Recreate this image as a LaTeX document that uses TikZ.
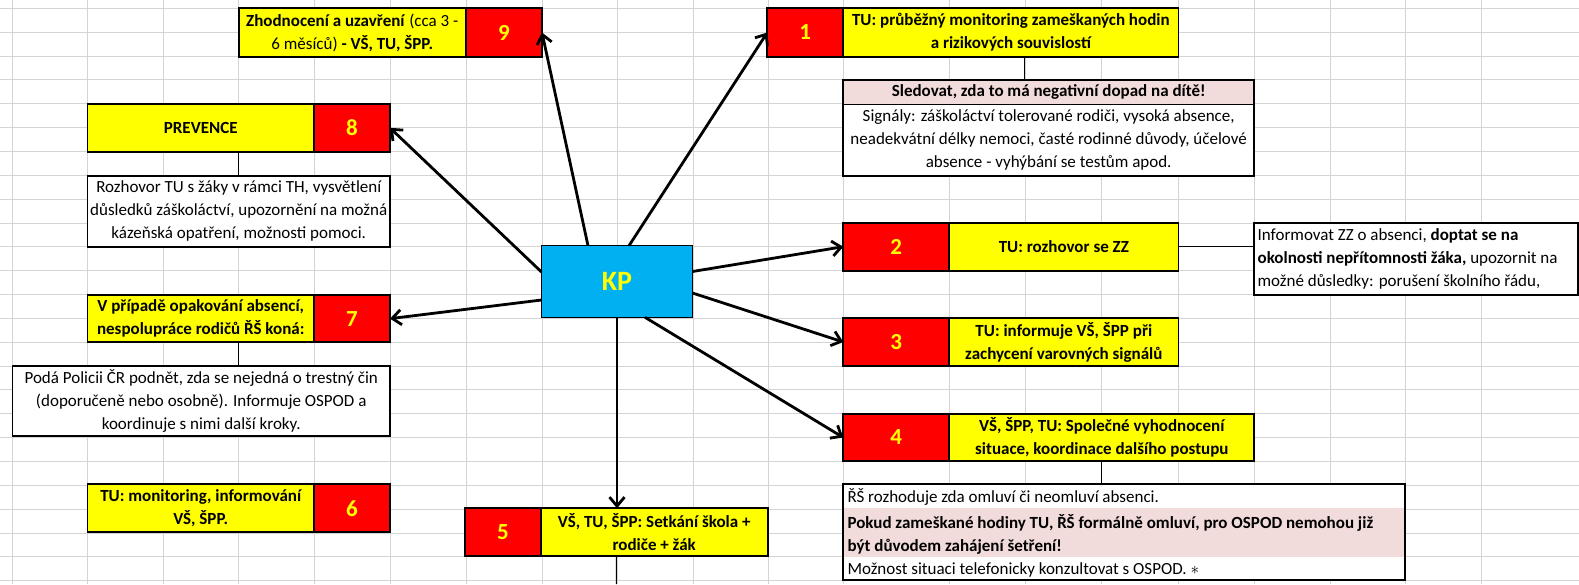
\documentclass[tikz,border=0pt]{standalone}
\usepackage{fontspec}
\setmainfont{Carlito}
\usetikzlibrary{arrows.meta,calc}
\definecolor{xlyellow}{HTML}{FFFF00}
\definecolor{xlred}{HTML}{FF0000}
\definecolor{kpblue}{HTML}{00B0F0}
\definecolor{xlpink}{HTML}{F2DCDB}
\definecolor{gridc}{HTML}{D4D4D4}
\begin{document}
\begin{tikzpicture}[x=1pt,y=-1pt,
  cell/.style={draw=black, line width=1.8pt, inner sep=0pt, outer sep=0pt, anchor=north west},
  plaincell/.style={draw=none, inner sep=0pt, outer sep=0pt, anchor=north west},
  ybox/.style={cell, fill=xlyellow, align=center, font=\bfseries\fontsize{17}{23}\selectfont},
  rbox/.style={cell, fill=xlred, text=xlyellow, font=\bfseries\fontsize{23}{23}\selectfont},
  tbox/.style={cell, fill=white, align=center, font=\fontsize{17}{23}\selectfont},
  ltext/.style={anchor=base west, inner sep=0pt, font=\fontsize{17}{23}\selectfont},
  arr/.style={line width=2.8pt, -{Straight Barb[length=9pt,width=15pt]}},
  link/.style={line width=1pt, draw=black},
  gridline/.style={draw=gridc, line width=0.9pt}]
\useasboundingbox (0,0) rectangle (1579,584);
\fill[white] (0,0) rectangle (1579,584);
% spreadsheet grid
\foreach \x in {12.5,87.5,163,238.6,314,390,466,542,617,693,768,843.3,949.3,1025,1101,1178.4,1254,1330,1405,1481}
  \draw[gridline] (\x,0) -- (\x,584);
\foreach \k in {0,...,24}
  \draw[gridline] (0,{8.3+23.85*\k}) -- (1579,{8.3+23.85*\k});

% left column
\node[ybox, minimum width=227.4, minimum height=48.4, font=\fontsize{17}{23}\selectfont] (y9) at (238.6,8.3)
  {\textbf{Zhodnocení a uzavření} (cca 3 -\\6 měsíců) \textbf{- VŠ, TU, ŠPP.}};
\node[rbox, minimum width=76, minimum height=48.4] (r9) at (466,8.3) {9};

\node[ybox, minimum width=226.5, minimum height=47.7] (y8) at (87.5,104) {PREVENCE};
\node[rbox, minimum width=76, minimum height=47.7] (r8) at (314,104) {8};
\node[tbox, minimum width=302.5, minimum height=71] (t8) at (87.5,175.7)
  {Rozhovor TU s žáky v rámci TH, vysvětlení\\důsledků záškoláctví, upozornění na možná\\kázeňská opatření, možnosti pomoci.};

\node[ybox, minimum width=226.5, minimum height=47.3] (y7) at (87.5,295)
  {V případě opakování absencí,\\nespolupráce rodičů ŘŠ koná:};
\node[rbox, minimum width=76, minimum height=47.3] (r7) at (314,295) {7};
\node[tbox, minimum width=377.5, minimum height=70.3] (t7) at (12.5,365.7)
  {Podá Policii ČR podnět, zda se nejedná o trestný čin\\(doporučeně nebo osobně). Informuje OSPOD a\\koordinuje s nimi další kroky.};

\node[ybox, minimum width=226.5, minimum height=48] (y6) at (87.5,484.3) {TU: monitoring, informování\\VŠ, ŠPP.};
\node[rbox, minimum width=76, minimum height=48] (r6) at (314,484.3) {6};

% bottom middle
\node[rbox, minimum width=75.7, minimum height=47.4] (r5) at (465,508.3) {5};
\node[ybox, minimum width=227, minimum height=47.4] (y5) at (540.7,508.3) {VŠ, TU, ŠPP: Setkání škola +\\rodiče + žák};

% centre
\node[cell, fill=kpblue, text=xlyellow, line width=1.5pt, font=\bfseries\fontsize{28}{28}\selectfont,
  minimum width=151, minimum height=71.6] (kp) at (541.5,245.7) {KP};

% right column
\node[rbox, minimum width=76, minimum height=48.4] (r1) at (767.3,8.3) {1};
\node[ybox, minimum width=335.1, minimum height=48.4] (y1) at (843.3,8.3)
  {TU: průběžný monitoring zameškaných hodin\\a rizikových souvislostí};
\node[plaincell, fill=xlpink, minimum width=410.7, minimum height=24, font=\bfseries\fontsize{17}{23}\selectfont] (sh) at (843.3,80)
  {Sledovat, zda to má negativní dopad na dítě!};
\node[plaincell, fill=white, align=center, font=\fontsize{17}{23}\selectfont, minimum width=410.7, minimum height=71.7] (sb) at (843.3,104)
  {Signály: záškoláctví tolerované rodiči, vysoká absence,\\neadekvátní délky nemoci, časté rodinné důvody, účelové\\absence - vyhýbání se testům apod.};
\draw[link] (sh.south west) -- (sh.south east);
\draw[line width=1.8pt] (sh.north west) rectangle (sb.south east);

\node[rbox, minimum width=106, minimum height=48] (r2) at (843.3,222.7) {2};
\node[ybox, minimum width=229.1, minimum height=48] (y2) at (949.3,222.7) {TU: rozhovor se ZZ};
\node[cell, fill=white, minimum width=324, minimum height=72.3] (t2) at (1254,222.7) {};
\node[ltext] (t2a) at (1257.4,240.5) {Informovat ZZ o absenci, \textbf{doptat se na}};
\node[ltext] (t2b) at (1257.4,263) {\textbf{okolnosti nepřítomnosti žáka,} upozornit na};
\node[ltext] (t2c) at (1257.4,286.2) {možné důsledky: porušení školního řádu,};

\node[rbox, minimum width=106, minimum height=47.4] (r3) at (843.3,318.3) {3};
\node[ybox, minimum width=229.1, minimum height=47.4] (y3) at (949.3,318.3) {TU: informuje VŠ, ŠPP při\\zachycení varovných signálů};

\node[rbox, minimum width=106, minimum height=47] (r4) at (843.3,414) {4};
\node[ybox, minimum width=305, minimum height=47] (y4) at (949.3,414) {VŠ, ŠPP, TU: Společné vyhodnocení\\situace, koordinace dalšího postupu};
\node[cell, fill=white, minimum width=561.7, minimum height=96.3] (t4) at (843.3,483.7) {};
\fill[xlpink] ($(t4.north west)+(0,24.6)$) rectangle ($(t4.north east)+(0,73)$);
\draw[line width=1.8pt] (t4.north west) rectangle (t4.south east);
\node[ltext] (t4a) at (847.3,502) {ŘŠ rozhoduje zda omluví či neomluví absenci.};
\node[ltext, font=\bfseries\fontsize{17}{23}\selectfont] (t4b) at (847.3,528) {Pokud zameškané hodiny TU, ŘŠ formálně omluví, pro OSPOD nemohou již};
\node[ltext, font=\bfseries\fontsize{17}{23}\selectfont] (t4c) at (847.3,551.2) {být důvodem zahájení šetření!};
\node[ltext] (t4d) at (847.3,574) {Možnost situaci telefonicky konzultovat s OSPOD. $\ast$};

% thin connectors
\draw[link] (t8.north |- y8.south) -- (t8.north);
\coordinate (c7) at ($(y7.south west)!0.5!(r7.south east)$);
\draw[link] (c7) -- (c7 |- t7.north);
\coordinate (c1) at ($(y1.south west)!0.54!(y1.south east)$);
\draw[link] (c1) -- (c1 |- sh.north);
\draw[link] (y4.south) -- (y4.south |- t4.north);
\coordinate (c5) at ($(r5.south west)!0.5!(y5.south east)$);
\coordinate (b5) at (616.4,584);
\draw[link] (c5) -- (b5);
\draw[link] (y2.east) -- (y2.east -| t2.west);

% arrows from KP
\draw[arr] ($(kp.north)+(12,0)$) -- (r1.west);
\draw[arr] ($(kp.north)+(-29,0)$) -- (r9.east);
\draw[arr] ($(kp.west)+(0,-9.5)$) -- (r8.east);
\draw[arr] ($(kp.west)+(0,18.5)$) -- (r7.east);
\draw[arr] (kp.south) -- (kp.south |- r5.north);
\draw[arr] ($(kp.south)+(28,0)$) -- (r4.west);
\draw[arr] ($(kp.east)+(0,11.5)$) -- (r3.west);
\draw[arr] ($(kp.east)+(0,-10)$) -- (r2.west);
\end{tikzpicture}
\end{document}
